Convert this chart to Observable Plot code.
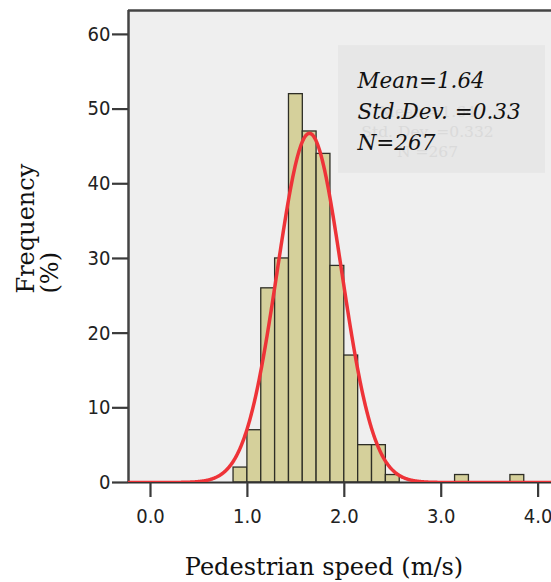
<!DOCTYPE html>
<html><head><meta charset="utf-8">
<script src="https://cdn.jsdelivr.net/npm/d3@7"></script>
<script src="https://cdn.jsdelivr.net/npm/@observablehq/plot@0.6"></script>
<style>html,body{margin:0;padding:0;background:#fff} svg{display:block}</style>
</head><body><div id="chart"></div>
<script>
// ---- data ----
const binStart = [0.857, 1.000, 1.143, 1.286, 1.429, 1.571, 1.714, 1.857, 2.000, 2.143, 2.286, 2.429, 3.143, 3.714];
const binWidth = 0.1429;
const counts   = [2, 7, 26, 30, 52, 47, 44, 29, 17, 5, 5, 1, 1, 1];
const mean = 1.64, stdDev = 0.332, nObs = 267;
const curvePeak = 46.75; // height of the fitted normal curve's peak
const xTicks = [0, 1, 2, 3, 4];
const yTicks = [0, 10, 20, 30, 40, 50, 60];
const statsLines = ["Mean=1.64", "Std.Dev. =0.33", "N=267"];
const ghostLines = ["Mean =1.64", "Std. Dev. =0.332", "N =267"];
const xTitle = "Pedestrian speed (m/s)";
const yTitle = ["Frequency", "(%)"];
const xDomain = [-0.227, 4.138];
const yDomain = [0, 63.2];
const statsBox = {x1: 1.94, x2: 4.076, y1: 41.4, y2: 58.5};

const bars = binStart.map((x, i) => ({x1: x, x2: x + binWidth, y: counts[i]}));
// fitted normal curve (mean, sd) with the peak height shown in the reference
const curve = d3.range(xDomain[0], xDomain[1] + 0.005, 0.005).map(x => ({
  x, y: curvePeak * Math.exp(-0.5 * ((x - mean) / stdDev) ** 2)
}));

const serif = "'DejaVu Serif', serif";
const chart = Plot.plot({
  width: 551, height: 582,
  marginLeft: 128, marginRight: 0, marginTop: 10, marginBottom: 100,
  style: {background: "#fff", fontFamily: "'DejaVu Sans Condensed', 'DejaVu Sans', sans-serif", fontSize: "20px", color: "#222", overflow: "visible"},
  x: {domain: xDomain, label: null},
  y: {domain: yDomain, label: null},
  marks: [
    Plot.frame({fill: "#efefef", stroke: null}),
    Plot.rect([statsBox], {x1: "x1", x2: "x2", y1: "y1", y2: "y2", fill: "#e7e7e7"}),
    Plot.text([ghostLines.join("\n")], {frameAnchor: "top-left", dx: 299, dy: 92, textAnchor: "middle", lineAnchor: "top", lineHeight: 1.29, fontSize: 15.5, fontFamily: serif, fill: "#dadada"}),
    Plot.rectY(bars, {x1: "x1", x2: "x2", y: "y", fill: "#d5d09b", stroke: "#2e2e26", strokeWidth: 1.3}),
    Plot.ruleY([0], {stroke: "#333", strokeWidth: 2}),
    Plot.ruleX([xDomain[0]], {stroke: "#444", strokeWidth: 2.5}),
    Plot.ruleY([yDomain[1]], {stroke: "#444", strokeWidth: 2.5}),
    Plot.line(curve, {x: "x", y: "y", stroke: "#ee3338", strokeWidth: 3.5, clip: true}),
    Plot.axisX({ticks: xTicks, tickFormat: d3.format(".1f"), tickSize: 15, tickPadding: 11, stroke: "#3a3a3a", strokeWidth: 2.2, fill: "#222"}),
    Plot.axisY({ticks: yTicks, tickSize: 16, tickPadding: 2, stroke: "#3a3a3a", strokeWidth: 2.2, fill: "#222"}),
    Plot.text([statsLines.join("\n")], {frameAnchor: "top-left", dx: 229, dy: 55.7, textAnchor: "start", lineAnchor: "top", lineHeight: 1.44, fontSize: 21.5, fontFamily: serif, fontStyle: "italic", fill: "#111"}),
    Plot.text([xTitle], {frameAnchor: "bottom", dx: -16, dy: 84.6, lineAnchor: "middle", fontSize: 24, fontFamily: serif, fill: "#111"}),
    Plot.text([yTitle.join("\n")], {frameAnchor: "left", rotate: -90, textAnchor: "start", lineAnchor: "middle", lineHeight: 1.0, dx: -90, dy: 47, fontSize: 24, fontFamily: serif, fill: "#111"})
  ]
});
document.getElementById("chart").appendChild(chart);
</script>
</body></html>
